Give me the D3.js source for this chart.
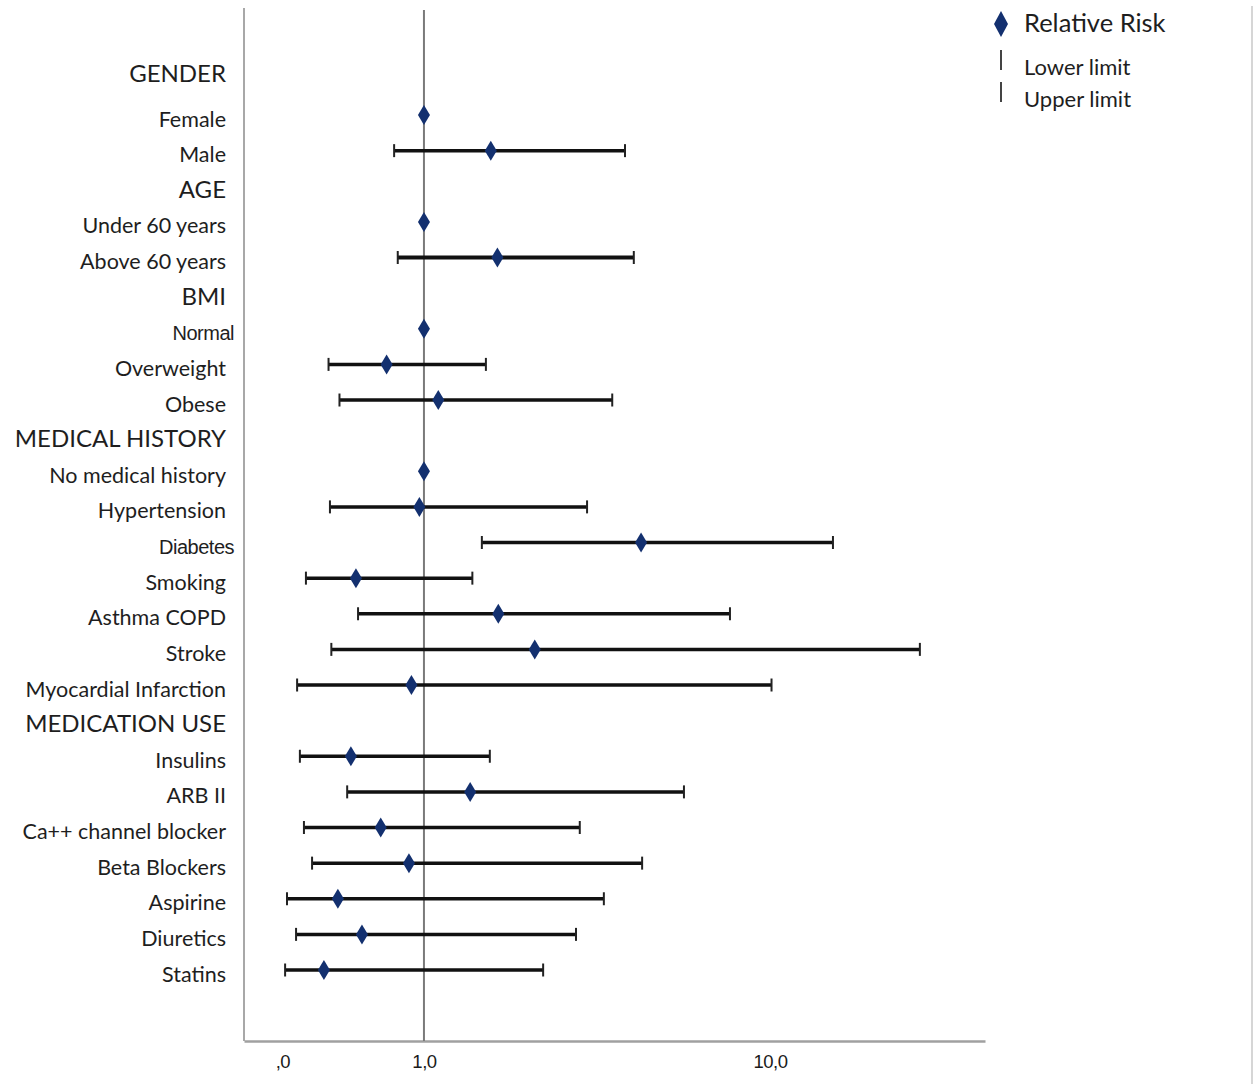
<!DOCTYPE html>
<html>
<head>
<meta charset="utf-8">
<script src="https://cdn.jsdelivr.net/npm/d3@7"></script>
<style>
  html, body { margin: 0; padding: 0; background: #fff; }
  svg { display: block; }
</style>
</head>
<body>
<svg id="chart" width="1254" height="1091"></svg>
<script>
// ---- Data ----
const labels = ["GENDER","Female","Male","AGE","Under 60 years","Above 60 years","BMI","Normal","Overweight","Obese","MEDICAL HISTORY","No medical history","Hypertension","Diabetes","Smoking","Asthma COPD","Stroke","Myocardial Infarction","MEDICATION USE","Insulins","ARB II","Ca++ channel blocker","Beta Blockers","Aspirine","Diuretics","Statins"];
const headers = ["GENDER","AGE","BMI","MEDICAL HISTORY","MEDICATION USE"];
const relativeRisk = [null,1.00,1.56,null,1.00,1.63,null,1.00,0.78,1.10,null,1.00,0.97,4.24,0.636,1.64,2.09,0.92,null,0.615,1.36,0.75,0.905,0.564,0.662,0.514];
const lowerLimit   = [null,null,0.82,null,null,0.84,null,null,0.53,0.57,null,null,0.535,1.47,0.456,0.645,0.54,0.43,null,0.438,0.60,0.45,0.475,0.402,0.427,0.397];
const upperLimit   = [null,null,3.81,null,null,4.04,null,null,1.51,3.50,null,null,2.96,15.2,1.38,7.66,27.1,10.1,null,1.55,5.64,2.82,4.27,3.31,2.75,2.21];
const tickValues = [0.39, 1, 10];
const tickLabels = [",0", "1,0", "10,0"];
const legendLabels = ["Relative Risk", "Lower limit", "Upper limit"];

// ---- Layout ----
const svg = d3.select("#chart");
const fontMain = "Lato, 'Open Sans', 'DejaVu Sans', sans-serif";
const plotLeft = 244, plotRight = 985, plotTop = 8, plotBottom = 1041;

const x = d3.scaleLog().domain([0.302, 41.8]).range([plotLeft, plotRight]);
const y = d3.scalePoint().domain(labels).range([79.4, 970]);

const navy = "#13306f";

// right border line
svg.append("line").attr("x1", 1252).attr("x2", 1252).attr("y1", 6).attr("y2", 1084)
  .attr("stroke", "#c8c8c8").attr("stroke-width", 1.5);

// y axis line
svg.append("line").attr("x1", plotLeft).attr("x2", plotLeft).attr("y1", plotTop).attr("y2", plotBottom)
  .attr("stroke", "#a8a8a8").attr("stroke-width", 2);

// x axis
const xAxis = d3.axisBottom(x).tickValues(tickValues)
  .tickFormat((d, i) => tickLabels[i]).tickSize(0).tickPadding(14);
const gx = svg.append("g").attr("transform", `translate(0,${plotBottom})`).call(xAxis);
gx.select(".domain").attr("stroke", "#a0a0a0").attr("stroke-width", 2.5);
gx.selectAll("text").attr("font-family", "'Liberation Sans', Arial, sans-serif")
  .attr("font-size", 18.5).attr("fill", "#1a1a1a").attr("letter-spacing", "-0.5px");

// reference line at 1
svg.append("line").attr("x1", x(1)).attr("x2", x(1)).attr("y1", 10).attr("y2", plotBottom)
  .attr("stroke", "#7a7a7a").attr("stroke-width", 2);

// labels
const altFont = new Set(["Normal", "Diabetes"]);
const headerOffset = { "GENDER": -6 };
svg.append("g").selectAll("text").data(labels).join("text")
  .attr("x", d => altFont.has(d) ? 234 : 226)
  .attr("y", d => headers.includes(d) ? y(d) + (headerOffset[d] ?? 3) : y(d) + 4)
  .attr("dy", "0.35em")
  .attr("text-anchor", "end")
  .attr("font-family", d => altFont.has(d) ? "'Liberation Sans', Arial, sans-serif" : fontMain)
  .attr("font-size", d => headers.includes(d) ? 24 : (altFont.has(d) ? 20 : 21.5))
  .attr("letter-spacing", d => altFont.has(d) ? "-0.5px" : null)
  .attr("fill", "#1e1e1e")
  .text(d => d);

// error bars
const rowsData = labels.map((l, i) => ({ label: l, rr: relativeRisk[i], lo: lowerLimit[i], hi: upperLimit[i] }));
const bars = rowsData.filter(d => d.lo != null && d.hi != null);
const gb = svg.append("g");
gb.selectAll("line.bar").data(bars).join("line").attr("class", "bar")
  .attr("x1", d => x(d.lo)).attr("x2", d => x(d.hi))
  .attr("y1", d => y(d.label)).attr("y2", d => y(d.label))
  .attr("stroke", "#111").attr("stroke-width", d => d.label === "Above 60 years" ? 4.2 : 3.5);
gb.selectAll("line.capL").data(bars).join("line").attr("class", "capL")
  .attr("x1", d => x(d.lo)).attr("x2", d => x(d.lo))
  .attr("y1", d => y(d.label) - 6.5).attr("y2", d => y(d.label) + 6.5)
  .attr("stroke", "#222").attr("stroke-width", 2);
gb.selectAll("line.capR").data(bars).join("line").attr("class", "capR")
  .attr("x1", d => x(d.hi)).attr("x2", d => x(d.hi))
  .attr("y1", d => y(d.label) - 6.5).attr("y2", d => y(d.label) + 6.5)
  .attr("stroke", "#222").attr("stroke-width", 2);

// diamonds
const diamond = (cx, cy, w, h) => `M${cx},${cy - h / 2}L${cx + w / 2},${cy}L${cx},${cy + h / 2}L${cx - w / 2},${cy}Z`;
svg.append("g").selectAll("path").data(rowsData.filter(d => d.rr != null)).join("path")
  .attr("d", d => diamond(x(d.rr), y(d.label), 12, 20))
  .attr("fill", navy);

// legend
const lg = svg.append("g");
lg.append("path").attr("d", diamond(1001, 24, 14, 26)).attr("fill", navy);
lg.append("line").attr("x1", 1001).attr("x2", 1001).attr("y1", 50).attr("y2", 70)
  .attr("stroke", "#444").attr("stroke-width", 2);
lg.append("line").attr("x1", 1001).attr("x2", 1001).attr("y1", 82).attr("y2", 102)
  .attr("stroke", "#444").attr("stroke-width", 2);
lg.selectAll("text").data(legendLabels).join("text")
  .attr("x", 1024)
  .attr("y", (d, i) => [23, 67, 99][i])
  .attr("dy", "0.35em")
  .attr("font-family", fontMain)
  .attr("font-size", (d, i) => i === 0 ? 25.5 : 22)
  .attr("fill", "#1e1e1e")
  .text(d => d);
</script>
</body>
</html>
